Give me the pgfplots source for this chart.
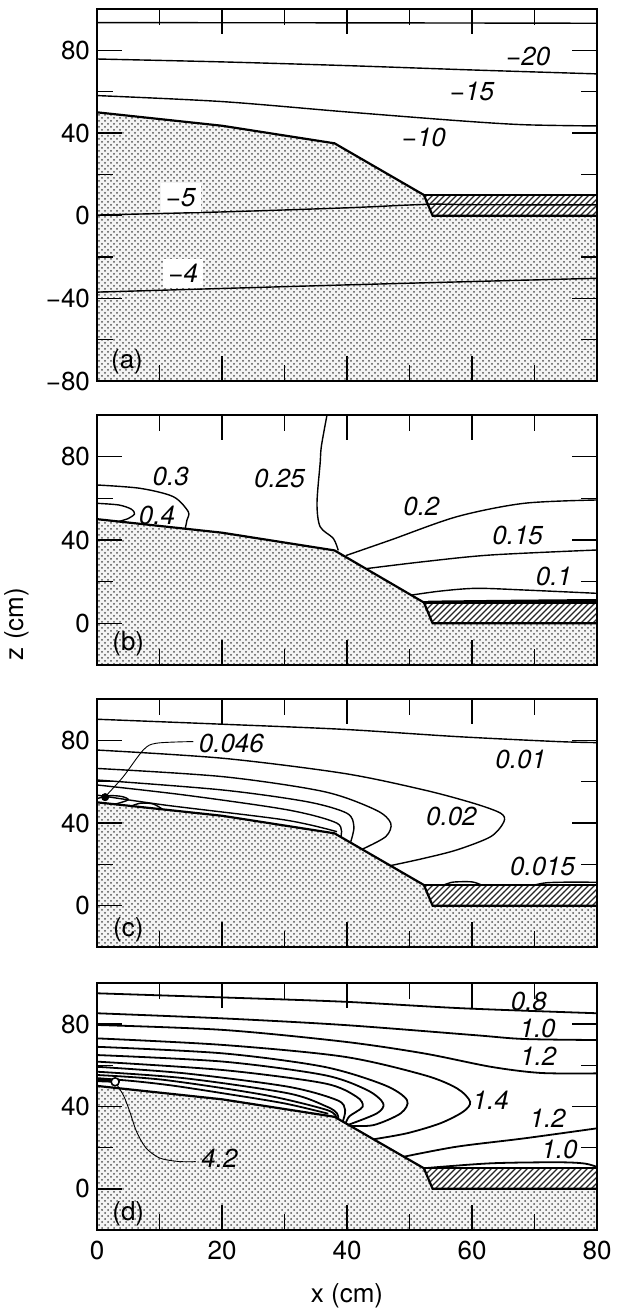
\documentclass[border=0pt]{standalone}
\usepackage{fontspec}
\setmainfont{TeX Gyre Heros}
\usepackage{pgfplots}
\pgfplotsset{compat=1.18}
\usetikzlibrary{patterns}
\pgfdeclarepatternformonly{dhatch}{\pgfqpoint{-1pt}{-1pt}}{\pgfqpoint{4pt}{4pt}}{\pgfqpoint{3pt}{3pt}}{
  \pgfsetlinewidth{0.6pt}
  \pgfpathmoveto{\pgfqpoint{0pt}{0pt}}
  \pgfpathlineto{\pgfqpoint{3.1pt}{3.1pt}}
  \pgfusepathqstroke
}
\newcommand{\lab}{\fontsize{13}{15}\selectfont}
\newcommand{\clab}{\fontsize{13}{15}\selectfont\itshape}
\pgfplotsset{
  panel/.style={
    scale only axis, width=250pt, xmin=0, xmax=80,
    axis line style={line width=0.8pt},
    tick align=inside,
    xtick={0,20,40,60,80}, minor xtick={10,30,50,70},
    major tick length=12.5pt, minor tick length=8pt,
    tick style={line width=0.8pt, black},
    tick label style={font=\lab},
    xticklabel style={yshift=-2pt},
    xticklabels={},
    clip=true,
    axis on top,
  },
  cont/.style={no marks, line width=0.7pt, black, smooth},
  thin/.style={no marks, line width=0.45pt, black, smooth},
  stip/.style={draw=none, fill=gray!9},
  dots/.style={draw=none, pattern=crosshatch dots, pattern color=black!68},
  hatch/.style={draw=none, pattern=dhatch, pattern color=black!85},
  ground/.style={no marks, line width=1.1pt, black},
}
\begin{document}
\begin{tikzpicture}
\useasboundingbox (0pt,0pt) rectangle (315.5pt,656pt);
\node[rotate=90, font=\lab] at (8.3pt,344pt) {z (cm)};
% ---------------- (a)
\begin{axis}[panel, at={(48.5pt,465.5pt)}, anchor=south west, height=186pt,
  ymin=-80, ymax=100, ytick={-80,-40,0,40,80}, minor ytick={-60,-20,20,60},
  yticklabels={−80,−40,0,40,80}]
\addplot[stip] coordinates {(0,-80)(0,50)(20,43.5)(38,35)(52.3,10)(53.7,0)(80,0)(80,-80)} -- cycle;
\addplot[dots] coordinates {(0,-80)(0,50)(20,43.5)(38,35)(52.3,10)(53.7,0)(80,0)(80,-80)} -- cycle;
\addplot[fill=white, draw=none] coordinates {(52.3,10)(80,10)(80,0)(53.7,0)} -- cycle;
\addplot[hatch] coordinates {(52.3,10)(80,10)(80,0)(53.7,0)} -- cycle;
\addplot[cont] coordinates {(0,93.4)(40,93.3)(80,93.1)};
\addplot[cont] coordinates {(0,75.8)(20,74.4)(40,72.6)(60,70.5)(80,68.6)};
\addplot[cont] coordinates {(0,58.1)(20,55.2)(39.5,50.3)(57.6,46)(68.3,44)(80,43.4)};
\addplot[cont] coordinates {(0,0.3)(20,1.8)(40,3.8)(53,5.5)(60,5.3)(80,5.2)};
\addplot[cont] coordinates {(0,-37)(40,-33.5)(80,-30.3)};
\addplot[ground] coordinates {(0,50)(20,43.5)(38,35)(52.3,10)(53.7,0)(80,0)};
\addplot[ground] coordinates {(52.3,10)(80,10)};
\node[font=\clab] at (69,77) {−20};
\node[font=\clab] at (60,60) {−15};
\node[font=\clab] at (52.3,37.9) {−10};
\node[font=\clab, fill=white, inner sep=2.5pt] at (13.4,8.8) {−5};
\node[font=\clab, fill=white, inner sep=2.5pt] at (13.8,-27.9) {−4};
\node[font=\lab] at (4.8,-70.6) {(a)};
\end{axis}
% ---------------- (b)
\begin{axis}[panel, at={(48.5pt,323.5pt)}, anchor=south west, height=125pt,
  ymin=-20, ymax=100, ytick={0,40,80}, minor ytick={20,60},
  yticklabels={0,40,80}]
\addplot[stip] coordinates {(0,-20)(0,50)(20,43.5)(38,35)(52.3,10)(53.7,0)(80,0)(80,-20)} -- cycle;
\addplot[dots] coordinates {(0,-20)(0,50)(20,43.5)(38,35)(52.3,10)(53.7,0)(80,0)(80,-20)} -- cycle;
\addplot[fill=white, draw=none] coordinates {(52.3,10)(80,10)(80,0)(53.7,0)} -- cycle;
\addplot[hatch] coordinates {(52.3,10)(80,10)(80,0)(53.7,0)} -- cycle;
\addplot[cont] coordinates {(36.8,100)(35.9,85)(35.7,76.8)(35.2,57.6)(35.7,46.4)(37.8,40.8)(38.6,35)};
\addplot[cont] coordinates {(39.8,32.5)(47,40)(57.6,51.2)(68.3,57.6)(80,59.2)};
\addplot[cont] coordinates {(43.2,26.3)(52.3,29.6)(63,32.8)(80,35.2)};
\addplot[cont] coordinates {(50.2,13.5)(55,15.5)(60.7,16.8)(68.3,16)(80,14.4)};
\addplot[cont, line width=1pt] coordinates {(53,10.4)(65,10.8)(80,11.2)};
\addplot[cont] coordinates {(0,66.4)(6.9,64.8)(12.2,60.8)(14.6,53.6)(14.4,49.6)(14.1,45.3)};
\addplot[cont] coordinates {(0,57.6)(3.5,56.8)(5.5,54.8)(6,52.5)(5,50.3)(3.5,48.9)};
\addplot[ground] coordinates {(0,50)(20,43.5)(38,35)(52.3,10)(53.7,0)(80,0)};
\addplot[ground] coordinates {(52.3,10)(80,10)};
\node[font=\clab] at (11.8,70.4) {0.3};
\node[font=\clab] at (29.2,69.6) {0.25};
\node[font=\clab] at (9.6,52) {0.4};
\node[font=\clab] at (51.9,56) {0.2};
\node[font=\clab] at (67.3,42.4) {0.15};
\node[font=\clab] at (73.1,22.4) {0.1};
\node[font=\lab] at (5,-9.6) {(b)};
\end{axis}
% ---------------- (c)
\begin{axis}[panel, at={(48.5pt,182.5pt)}, anchor=south west, height=124pt,
  ymin=-20, ymax=100, ytick={0,40,80}, minor ytick={20,60},
  yticklabels={0,40,80}]
\addplot[stip] coordinates {(0,-20)(0,50)(20,43.5)(38,35)(52.3,10)(53.7,0)(80,0)(80,-20)} -- cycle;
\addplot[dots] coordinates {(0,-20)(0,50)(20,43.5)(38,35)(52.3,10)(53.7,0)(80,0)(80,-20)} -- cycle;
\addplot[fill=white, draw=none] coordinates {(52.3,10)(80,10)(80,0)(53.7,0)} -- cycle;
\addplot[hatch] coordinates {(52.3,10)(80,10)(80,0)(53.7,0)} -- cycle;
\addplot[cont] coordinates {(0,90.2)(20,87.8)(39.5,85.3)(57.6,81.8)(73.7,79.4)(80,78.9)};
\addplot[cont] coordinates {(0,75.3)(20.2,71.3)(39.5,64)(52.3,56)(60.3,49.5)(64.6,44.7)(65.1,40.6)(63,33.4)(57.6,27)(52.3,22.9)(47,19.4)};
\addplot[cont] coordinates {(0,66.4)(20.2,62.4)(36.3,55.2)(44.6,46.3)(47,39.9)(46.2,33.4)(42.5,27.4)};
\addplot[cont] coordinates {(0,60.8)(20,56)(33.6,50.3)(40,44.7)(41.1,38.2)(40.6,31)};
\addplot[cont] coordinates {(0,58.4)(14.1,53.5)(30.6,46.3)(38.4,39.9)(39,33.3)};
\addplot[cont] coordinates {(0,53.5)(10.8,48.7)(30,41.5)(38.4,35.8)};
\addplot[cont] coordinates {(0,51.8)(2,53.2)(4,52.8)(5,51.2)(3,49.2)};
\addplot[cont] coordinates {(5.5,48.2)(7,49.6)(9,49.2)(10.5,46.6)};
\addplot[cont] coordinates {(55.5,10)(57,11.4)(60,11.5)(61.5,10)};
\addplot[cont] coordinates {(70,10)(72,11.1)(76,11.4)(80,11.3)};
\addplot[thin] coordinates {(1.3,52.7)(4.2,62.4)(7.4,75.3)(9.5,78.6)(15.4,79.4)};
\addplot[only marks, mark=*, mark size=1.8pt, black] coordinates {(1.3,52.5)};
\addplot[ground] coordinates {(0,50)(20,43.5)(38,35)(52.3,10)(53.7,0)(80,0)};
\addplot[ground] coordinates {(52.3,10)(80,10)};
\node[font=\clab] at (21.5,78.6) {0.046};
\node[font=\clab] at (67.8,70.5) {0.01};
\node[font=\clab] at (56.7,43.1) {0.02};
\node[font=\clab] at (71.3,18.9) {0.015};
\node[font=\lab] at (5,-11.7) {(c)};
\end{axis}
% ---------------- (d)
\begin{axis}[panel, at={(48.5pt,41pt)}, anchor=south west, height=123.5pt,
  ymin=-20, ymax=100, ytick={0,40,80}, minor ytick={20,60},
  yticklabels={0,40,80}, xticklabels={0,20,40,60,80},
  xlabel={x (cm)}, xlabel style={font=\lab, yshift=-5pt}]
\addplot[stip] coordinates {(0,-20)(0,50)(20,43.5)(38,35)(52.3,10)(53.7,0)(80,0)(80,-20)} -- cycle;
\addplot[dots] coordinates {(0,-20)(0,50)(20,43.5)(38,35)(52.3,10)(53.7,0)(80,0)(80,-20)} -- cycle;
\addplot[fill=white, draw=none] coordinates {(52.3,10)(80,10)(80,0)(53.7,0)} -- cycle;
\addplot[hatch] coordinates {(52.3,10)(80,10)(80,0)(53.7,0)} -- cycle;
\addplot[cont, line width=0.9pt] coordinates {(0,95)(20,93)(39.5,90.9)(58.6,87.7)(80,85.3)};
\addplot[cont, line width=0.9pt] coordinates {(0,85.3)(20.2,82.8)(39.5,79.6)(60.3,74.7)(68.3,72.8)(80,72.3)};
\addplot[cont, line width=0.9pt] coordinates {(0,79.6)(20.2,77.2)(39.5,71.5)(52.3,65.8)(63,59.3)(71,56.3)(80,56.1)};
\addplot[cont, line width=0.9pt] coordinates {(0,73.1)(20.2,69.9)(39.5,64.2)(52.3,55.3)(57.6,48.8)(59.7,42.3)(58.6,37.5)(54.9,31.8)(49.6,27)(44.3,24.1)};
\addplot[cont, line width=0.9pt] coordinates {(0,69)(20.2,65.8)(36.3,59.3)(46,50.4)(49.6,43.1)(48.6,36.7)(44.3,31)(40.5,30.6)};
\addplot[cont, line width=0.9pt] coordinates {(0,65)(20.2,61.8)(36.3,55.3)(43.2,48)(45.8,41.5)(44.8,36.7)(40.2,31.1)};
\addplot[cont, line width=0.9pt] coordinates {(0,61.8)(20.2,57.7)(36.3,51.3)(41.5,44.8)(42.5,39.9)(40.4,35.3)(39.8,31.9)};
\addplot[cont, line width=0.9pt] coordinates {(0,59.3)(14.1,56.1)(30.6,49.6)(38.4,43.1)(39.7,38.3)(39.3,32.6)};
\addplot[cont, line width=0.9pt] coordinates {(0,56.9)(14.1,53.7)(30.6,46.4)(36.8,39.9)(38.4,36.7)(38.6,34.2)};
\addplot[cont, line width=0.9pt] coordinates {(0,55.3)(10.8,52.9)(26.8,45.6)(36.8,38.3)(38.3,34.5)};
\addplot[cont, line width=0.9pt] coordinates {(0,53.8)(6,52.3)(12,50.2)(20,46.5)(30,41.5)(37,36.5)};
\addplot[cont, line width=1.6pt] coordinates {(0,52.6)(1.5,52.5)(3,52.2)};
\addplot[cont, line width=0.9pt] coordinates {(49.1,15.6)(57.6,20.5)(68.3,24.5)(80,29.4)};
\addplot[cont, line width=0.9pt] coordinates {(52.3,10)(63,12.4)(73.7,12.9)(78,12.3)(80,10.6)};
\addplot[thin] coordinates {(3.2,50.5)(4.3,45)(5.3,37)(6.3,28)(7.8,20)(10,15)(13,13.3)(15.8,13.2)};
\addplot[only marks, mark=o, mark size=2pt, black, mark options={fill=white, line width=0.8pt}] coordinates {(2.9,52)};
\addplot[ground] coordinates {(0,50)(20,43.5)(38,35)(52.3,10)(53.7,0)(80,0)};
\addplot[ground] coordinates {(52.3,10)(80,10)};
\node[font=\clab] at (69.1,90.9) {0.8};
\node[font=\clab] at (70.5,78) {1.0};
\node[font=\clab] at (70.6,64.2) {1.2};
\node[font=\clab] at (63,43.1) {1.4};
\node[font=\clab] at (72.1,34.3) {1.2};
\node[font=\clab] at (74,18.9) {1.0};
\node[font=\clab] at (19.6,14.8) {4.2};
\node[font=\lab] at (5,-11.9) {(d)};
\end{axis}
\end{tikzpicture}
\end{document}
